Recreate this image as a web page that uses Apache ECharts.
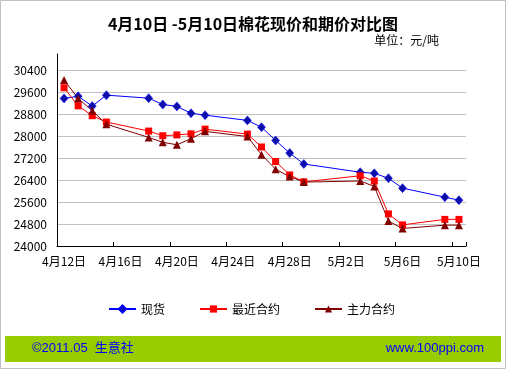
<!DOCTYPE html>
<html><head><meta charset="utf-8">
<script src="https://cdn.jsdelivr.net/npm/echarts@6/dist/echarts.min.js"></script>
<style>html,body{margin:0;padding:0;background:#fff}#c{width:506px;height:369px}</style>
</head><body><div id="c"></div>
<script>
var categories = ['4月12日','4月13日','4月14日','4月15日','4月16日','4月17日','4月18日','4月19日','4月20日','4月21日',
  '4月22日','4月23日','4月24日','4月25日','4月26日','4月27日','4月28日','4月29日','4月30日','5月1日',
  '5月2日','5月3日','5月4日','5月5日','5月6日','5月7日','5月8日','5月9日','5月10日'];
var tradeDates = ['4月12日','4月13日','4月14日','4月15日','4月18日','4月19日','4月20日','4月21日','4月22日','4月25日',
  '4月26日','4月27日','4月28日','4月29日','5月3日','5月4日','5月5日','5月6日','5月9日','5月10日'];
var spot   = [29380,29460,29100,29500,29390,29160,29090,28840,28770,28580,28330,27850,27390,26990,26690,26650,26470,26110,25780,25670];
var nearby = [29770,29110,28750,28520,28190,28020,28050,28090,28260,28080,27610,27080,26590,26340,26560,26370,25170,24770,24970,24970];
var main   = [30050,29380,28930,28440,27960,27780,27690,27910,28180,27990,27330,26800,26530,26330,26370,26170,24910,24640,24760,24760];
var seriesNames = ['现货','最近合约','主力合约'];
var yTicks = {min: 24000, max: 31000, step: 800};

function pairs(vals){ return tradeDates.map(function(d,i){ return [d, vals[i]]; }); }
var FONT = 'Noto Sans CJK SC';
var chart = echarts.init(document.getElementById('c'), null, {renderer:'canvas'});
chart.setOption({
  backgroundColor:'#fff',
  animation:false,
  title:[
    {text:'4月10日 -5月10日棉花现价和期价对比图', left:'center', top:11,
     textStyle:{fontSize:16, fontWeight:'bold', color:'#000', fontFamily:FONT}},
    {text:'单位：元/吨', right:62, top:29, textStyle:{fontSize:12, fontWeight:'normal', color:'#000', fontFamily:FONT}}
  ],
  grid:{left:57, top:54, width:409, bottom:123},
  legend:{left:108, top:303, padding:0, itemWidth:27, itemHeight:9, itemGap:34,
    textStyle:{fontSize:12, color:'#000', fontFamily:FONT}, data:seriesNames},
  xAxis:{type:'category', data:categories, boundaryGap:true,
    axisLine:{lineStyle:{color:'#000', width:1}},
    axisTick:{show:true, inside:true, length:4, interval:3, lineStyle:{color:'#000'}},
    axisLabel:{interval:3, margin:9, fontSize:12, color:'#000', fontFamily:FONT},
    splitLine:{show:false}},
  yAxis:{type:'value', min:yTicks.min, max:yTicks.max, interval:yTicks.step,
    axisLine:{show:true, lineStyle:{color:'#000', width:1}},
    axisTick:{show:false},
    axisLabel:{showMaxLabel:false, margin:10, fontSize:12, color:'#000', fontFamily:FONT,
      formatter:function(v){ return String(v); }},
    splitLine:{show:true, showMaxLine:false, showMinLine:false, lineStyle:{color:'#c0c0c0', width:1}}},
  series:[
    {name:seriesNames[0], type:'line', data:pairs(spot), symbol:'diamond', symbolSize:[8,9],
     lineStyle:{color:'#0000ff', width:1}, itemStyle:{color:'#0d0da8', borderColor:'#0000ff', borderWidth:0.5}},
    {name:seriesNames[1], type:'line', data:pairs(nearby), symbol:'rect', symbolSize:7,
     lineStyle:{color:'#ff0000', width:1}, itemStyle:{color:'#ff0000'}},
    {name:seriesNames[2], type:'line', data:pairs(main), symbol:'triangle', symbolSize:8,
     lineStyle:{color:'#800000', width:1}, itemStyle:{color:'#800000'}}
  ],
  graphic:[
    {type:'rect', shape:{x:0.5, y:0.5, width:505, height:368}, style:{fill:null, stroke:'#c0c0c0', lineWidth:1}, z:100},
    {type:'rect', shape:{x:5, y:336, width:496, height:26}, style:{fill:'#99cc00'}},
    {type:'text', left:32, top:342, style:{text:'©2011.05  生意社', fill:'#0000ff', font:'13px "Liberation Sans", "Noto Sans CJK SC"'}},
    {type:'text', right:22, top:342, style:{text:'www.100ppi.com', fill:'#0000ff', font:'13px "Liberation Sans", "Noto Sans CJK SC"'}}
  ]
});
</script></body></html>
